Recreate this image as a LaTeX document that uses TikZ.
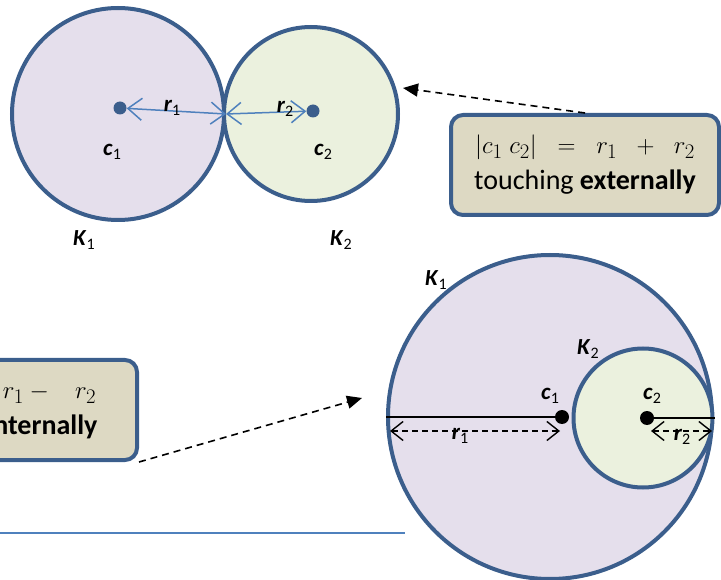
\documentclass[tikz,border=0pt]{standalone}
\usepackage{fontspec}
\setmainfont{Carlito}
\usetikzlibrary{positioning,arrows.meta}

\definecolor{rim}{HTML}{3B5E8C}
\definecolor{lav}{HTML}{E5DFEC}
\definecolor{sage}{HTML}{EBF1DE}
\definecolor{tan}{HTML}{DDD9C3}
\definecolor{lineblue}{HTML}{4F81BD}

% bold italic letter with a plain, lowered index
\newcommand{\lab}[2]{\textbf{\textit{#1}}\raisebox{-0.35ex}{\fontsize{16}{16}\selectfont #2}}

\begin{document}
\begin{tikzpicture}[x=1pt,y=-1pt,
    disc/.style={circle, draw=rim, line width=4pt, inner sep=0pt},
    ctr/.style={circle, fill=#1, inner sep=0pt, minimum size=13pt},
    tag/.style={inner sep=0pt, font=\fontsize{23}{26}\selectfont},
    note/.style={draw=rim, fill=tan, line width=4pt, rounded corners=12pt,
        minimum width=268pt, minimum height=100pt, align=center,
        font=\fontsize{28}{36}\selectfont},
    rad/.style={lineblue, line width=1.5pt,
        {Straight Barb[length=14pt,width=22pt]}-{Straight Barb[length=14pt,width=22pt]}},
    span/.style={black, line width=1.4pt, dash pattern=on 6pt off 4pt,
        {Straight Barb[length=12pt,width=19pt]}-{Straight Barb[length=12pt,width=19pt]}},
    pointer/.style={black, line width=1.6pt, dash pattern=on 7pt off 5pt,
        -{Triangle[length=15pt,width=13pt]}}
]
    \useasboundingbox (0,0) rectangle (721,580);
    \clip (0,0) rectangle (721,580);

    % touching externally
    \node[disc, fill=lav, minimum size=212pt] (kone) at (118,114) {};
    \node[disc, fill=sage, minimum size=174pt] (ktwo) at (311,114) {};
    \node[ctr=rim] (cone) at (120,108) {};
    \node[ctr=rim] (ctwo) at (313,111) {};

    \draw[rad] (cone) -- (kone.east);
    \draw[rad] (kone.east) -- (ctwo);

    \node[tag] (rone) at (172,108) {\lab{r}{1}};
    \node[tag] (rtwo) at (285,109) {\lab{r}{2}};
    \node[tag] (cone lab) at (112,152) {\lab{c}{1}};
    \node[tag] (ctwo lab) at (323,152) {\lab{c}{2}};
    \node[tag] (kone lab) at (84,240) {\lab{K}{1}};
    \node[tag] (ktwo lab) at (341,240) {\lab{K}{2}};

    \node[note] (extnote) at (585,165) {$|c_1\;c_2| \;\;=\;\; r_1 \;\;+\;\; r_2$\\touching \textbf{externally}};
    \coordinate (exthead) at (403,88);
    \draw[pointer] (extnote.north) -- (exthead);

    % touching internally
    \node[note, minimum width=296pt] (intnote) at (-11,410) {$|c_1\;c_2| \;\;=\;\; r_1 -\;\;\; r_2$\\touching \textbf{internally}};
    \coordinate (inthead) at (362,398);
    \draw[pointer] (intnote.south east) -- (inthead);

    \coordinate (rulea) at (0,533);
    \coordinate (ruleb) at (405,533);
    \draw[lineblue, line width=1.5pt] (rulea) -- (ruleb);

    \node[disc, fill=lav, minimum size=324pt] (bigk) at (550,417) {};
    \node[disc, fill=sage, minimum size=139pt] (smallk) at (643,418) {};
    \node[ctr=black, minimum size=14pt] (bigc) at (562,417) {};
    \node[ctr=black, minimum size=14pt] (smallc) at (647,418) {};

    \draw[black, line width=1.4pt] (bigk.west) -- (bigc);
    \draw[black, line width=1.4pt] (smallc) -- (smallk.east);

    \coordinate (spanone a) at (390,431);
    \coordinate (spanone b) at (560,431);
    \coordinate (spantwo a) at (651,431);
    \coordinate (spantwo b) at (712,431);
    \draw[span] (spanone a) -- (spanone b);
    \draw[span] (spantwo a) -- (spantwo b);

    \node[tag] (bigr lab) at (460,436) {\lab{r}{1}};
    \node[tag] (smallr lab) at (682,437) {\lab{r}{2}};
    \node[tag] (bigc lab) at (550,396) {\lab{c}{1}};
    \node[tag] (smallc lab) at (652,396) {\lab{c}{2}};
    \node[tag] (bigk lab) at (436,280) {\lab{K}{1}};
    \node[tag] (smallk lab) at (588,349) {\lab{K}{2}};
\end{tikzpicture}
\end{document}
